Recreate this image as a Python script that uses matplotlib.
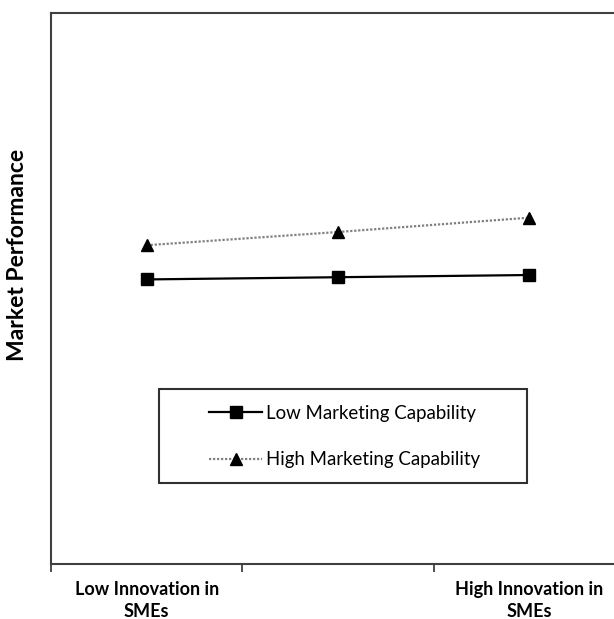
import matplotlib.pyplot as plt
from matplotlib.patches import Rectangle

# categorias e valores
categories = ['Low Innovation in\nSMEs', '', 'High Innovation in\nSMEs']
low_mc = [2.58, 2.60, 2.62]
high_mc = [2.89, 3.01, 3.14]

plt.rcParams['font.family'] = ['Lato', 'DejaVu Sans']

fig = plt.figure(figsize=(6.14, 6.19), dpi=100)
ax = fig.add_axes([51/614, 55/619, 574/614, 551.5/619])

x = list(range(len(categories)))
ax.plot(x, low_mc, color='black', lw=1.6, marker='s', markersize=8,
        label='Low Marketing Capability')
ax.plot(x, high_mc, color='#808080', lw=1.6, ls=(0, (1, 0.8)), marker='^',
        markersize=9, markerfacecolor='black', markeredgecolor='black',
        label='High Marketing Capability')

ax.set_xlim(-0.5, 2.5)
ax.set_ylim(0, 5)
ax.set_xticks(x)
ax.set_xticklabels(categories, fontsize=13, fontweight='bold', linespacing=1.35)
ax.set_xticks([-0.5, 0.5, 1.5, 2.5], minor=True)
ax.tick_params(axis='x', which='major', length=0, pad=12)
ax.tick_params(axis='x', which='minor', length=6, width=1.3, color='#404040')
ax.set_yticks([])

for s in ax.spines.values():
    s.set_color('#404040')
    s.set_linewidth(1.5)

fig.text(18/614, 1 - 255/619, 'Market Performance', rotation=90,
         ha='center', va='center', fontsize=16.5, fontweight='bold')

# caixa da legenda
box = Rectangle((159/614, 1 - 483/619), 368/614, 94/619, transform=fig.transFigure,
                fill=False, edgecolor='#303030', lw=1.5)
fig.patches.append(box)
ax.legend(loc='center left', bbox_to_anchor=(209/614, 1 - 436.5/619),
          bbox_transform=fig.transFigure, frameon=False, fontsize=13.4,
          borderpad=0, borderaxespad=0, handlelength=2.85, handletextpad=0.2,
          labelspacing=1.6)

fig.savefig('out.png', dpi=100)
